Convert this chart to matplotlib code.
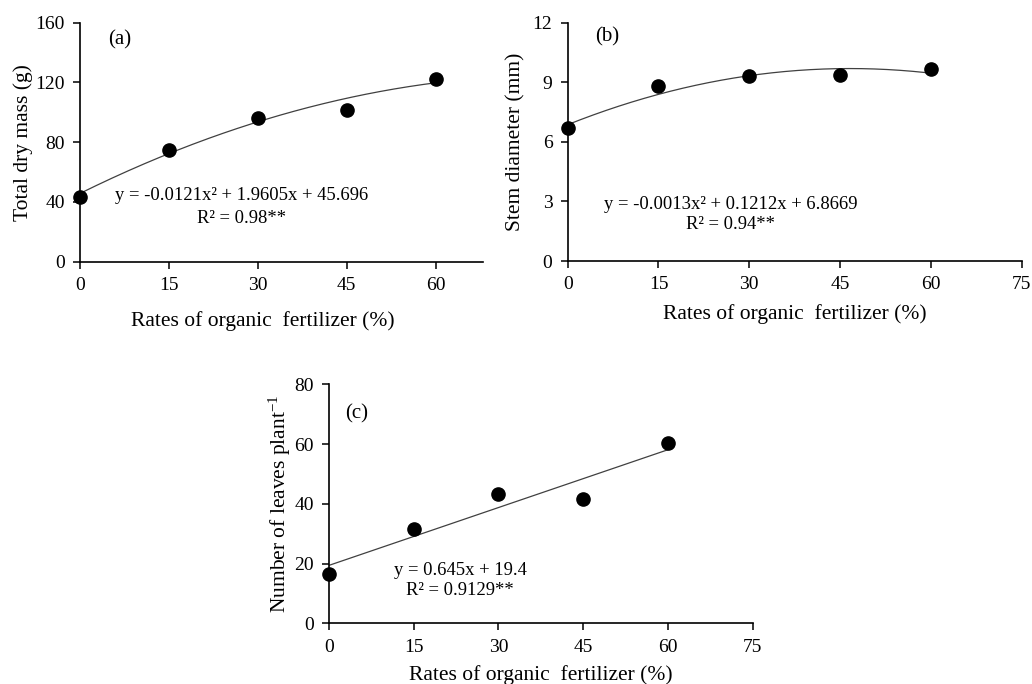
import numpy as np
import matplotlib
matplotlib.use('Agg')
import matplotlib.pyplot as plt

plt.rcParams['font.family'] = ['Liberation Serif', 'DejaVu Serif']
plt.rcParams['mathtext.fontset'] = 'custom'
plt.rcParams['mathtext.rm'] = 'Liberation Serif'
plt.rcParams['mathtext.it'] = 'Liberation Serif:italic'

rates = [0, 15, 30, 45, 60]
dry_mass = [43.5, 74.8, 96.4, 101.5, 122.1]
stem_diam = [6.68, 8.81, 9.30, 9.37, 9.67]
leaves = [16.4, 31.7, 43.3, 41.5, 60.2]

# regression coefficients as printed on the chart
coef_a = [-0.0121, 1.9605, 45.696]
coef_b = [-0.0013, 0.1212, 6.8669]
coef_c = [0.645, 19.4]

fig = plt.figure(figsize=(10.32, 6.84), dpi=100)

panels = [
    dict(rect=[0.0775, 0.6174, 0.3905, 0.3494], x=dry_mass, coef=coef_a,
         xlim=(0, 68), xticks=[0, 15, 30, 45, 60], ylim=(0, 160), yticks=[0, 40, 80, 120, 160],
         ylabel='Total dry mass (g)', tag='(a)', tagpos=(6.7, 148.4),
         eq='y = -0.0121x² + 1.9605x + 45.696', eqpos=(27.2, 44.6),
         r2='R² = 0.98**', r2pos=(27.2, 29.2),
         xlab=(0.454, -0.205), ylab=(-0.117, 0.5)),
    dict(rect=[0.5501, 0.6184, 0.4399, 0.3484], x=stem_diam, coef=coef_b,
         xlim=(0, 75), xticks=[0, 15, 30, 45, 60, 75], ylim=(0, 12), yticks=[0, 3, 6, 9, 12],
         ylabel='Stem diameter (mm)', tag='(b)', tagpos=(6.5, 11.28),
         eq='y = -0.0013x² + 0.1212x + 6.8669', eqpos=(26.9, 2.87),
         r2='R² = 0.94**', r2pos=(26.9, 1.86),
         xlab=(0.5, -0.18), ylab=(-0.094, 0.5)),
    dict(rect=[0.3188, 0.0887, 0.4106, 0.3495], x=leaves, coef=coef_c,
         xlim=(0, 75), xticks=[0, 15, 30, 45, 60, 75], ylim=(0, 80), yticks=[0, 20, 40, 60, 80],
         ylabel='Number of leaves plant$^{\\mathregular{-1}}$', tag='(c)', tagpos=(4.9, 70.1),
         eq='y = 0.645x + 19.4', eqpos=(23.2, 17.8),
         r2='R² = 0.9129**', r2pos=(23.2, 11.1),
         xlab=(0.5, -0.175), ylab=(-0.085, 0.5)),
]

for p in panels:
    ax = fig.add_axes(p['rect'])
    xs = np.linspace(0, 60, 200)
    ax.plot(xs, np.polyval(p['coef'], xs), color='#404040', lw=0.9, zorder=2)
    ax.plot(rates, p['x'], 'o', color='black', markersize=9.5, zorder=3, clip_on=False)
    ax.set_xlim(*p['xlim'])
    ax.set_ylim(*p['ylim'])
    ax.set_xticks(p['xticks'])
    ax.set_yticks(p['yticks'])
    for s in ['top', 'right']:
        ax.spines[s].set_visible(False)
    for s in ['left', 'bottom']:
        ax.spines[s].set_linewidth(1.2)
    ax.tick_params(direction='out', length=5, width=1.1, labelsize=14, pad=6)
    ax.set_xlabel('Rates of organic  fertilizer (%)', fontsize=15.5)
    ax.set_ylabel(p['ylabel'], fontsize=15.5)
    ax.xaxis.set_label_coords(*p['xlab'])
    ax.yaxis.set_label_coords(*p['ylab'])
    ax.text(*p['tagpos'], p['tag'], fontsize=15, ha='center', va='center')
    ax.text(*p['eqpos'], p['eq'], fontsize=13.4, ha='center', va='center')
    ax.text(*p['r2pos'], p['r2'], fontsize=13.4, ha='center', va='center')

fig.savefig('out.png', dpi=100)
